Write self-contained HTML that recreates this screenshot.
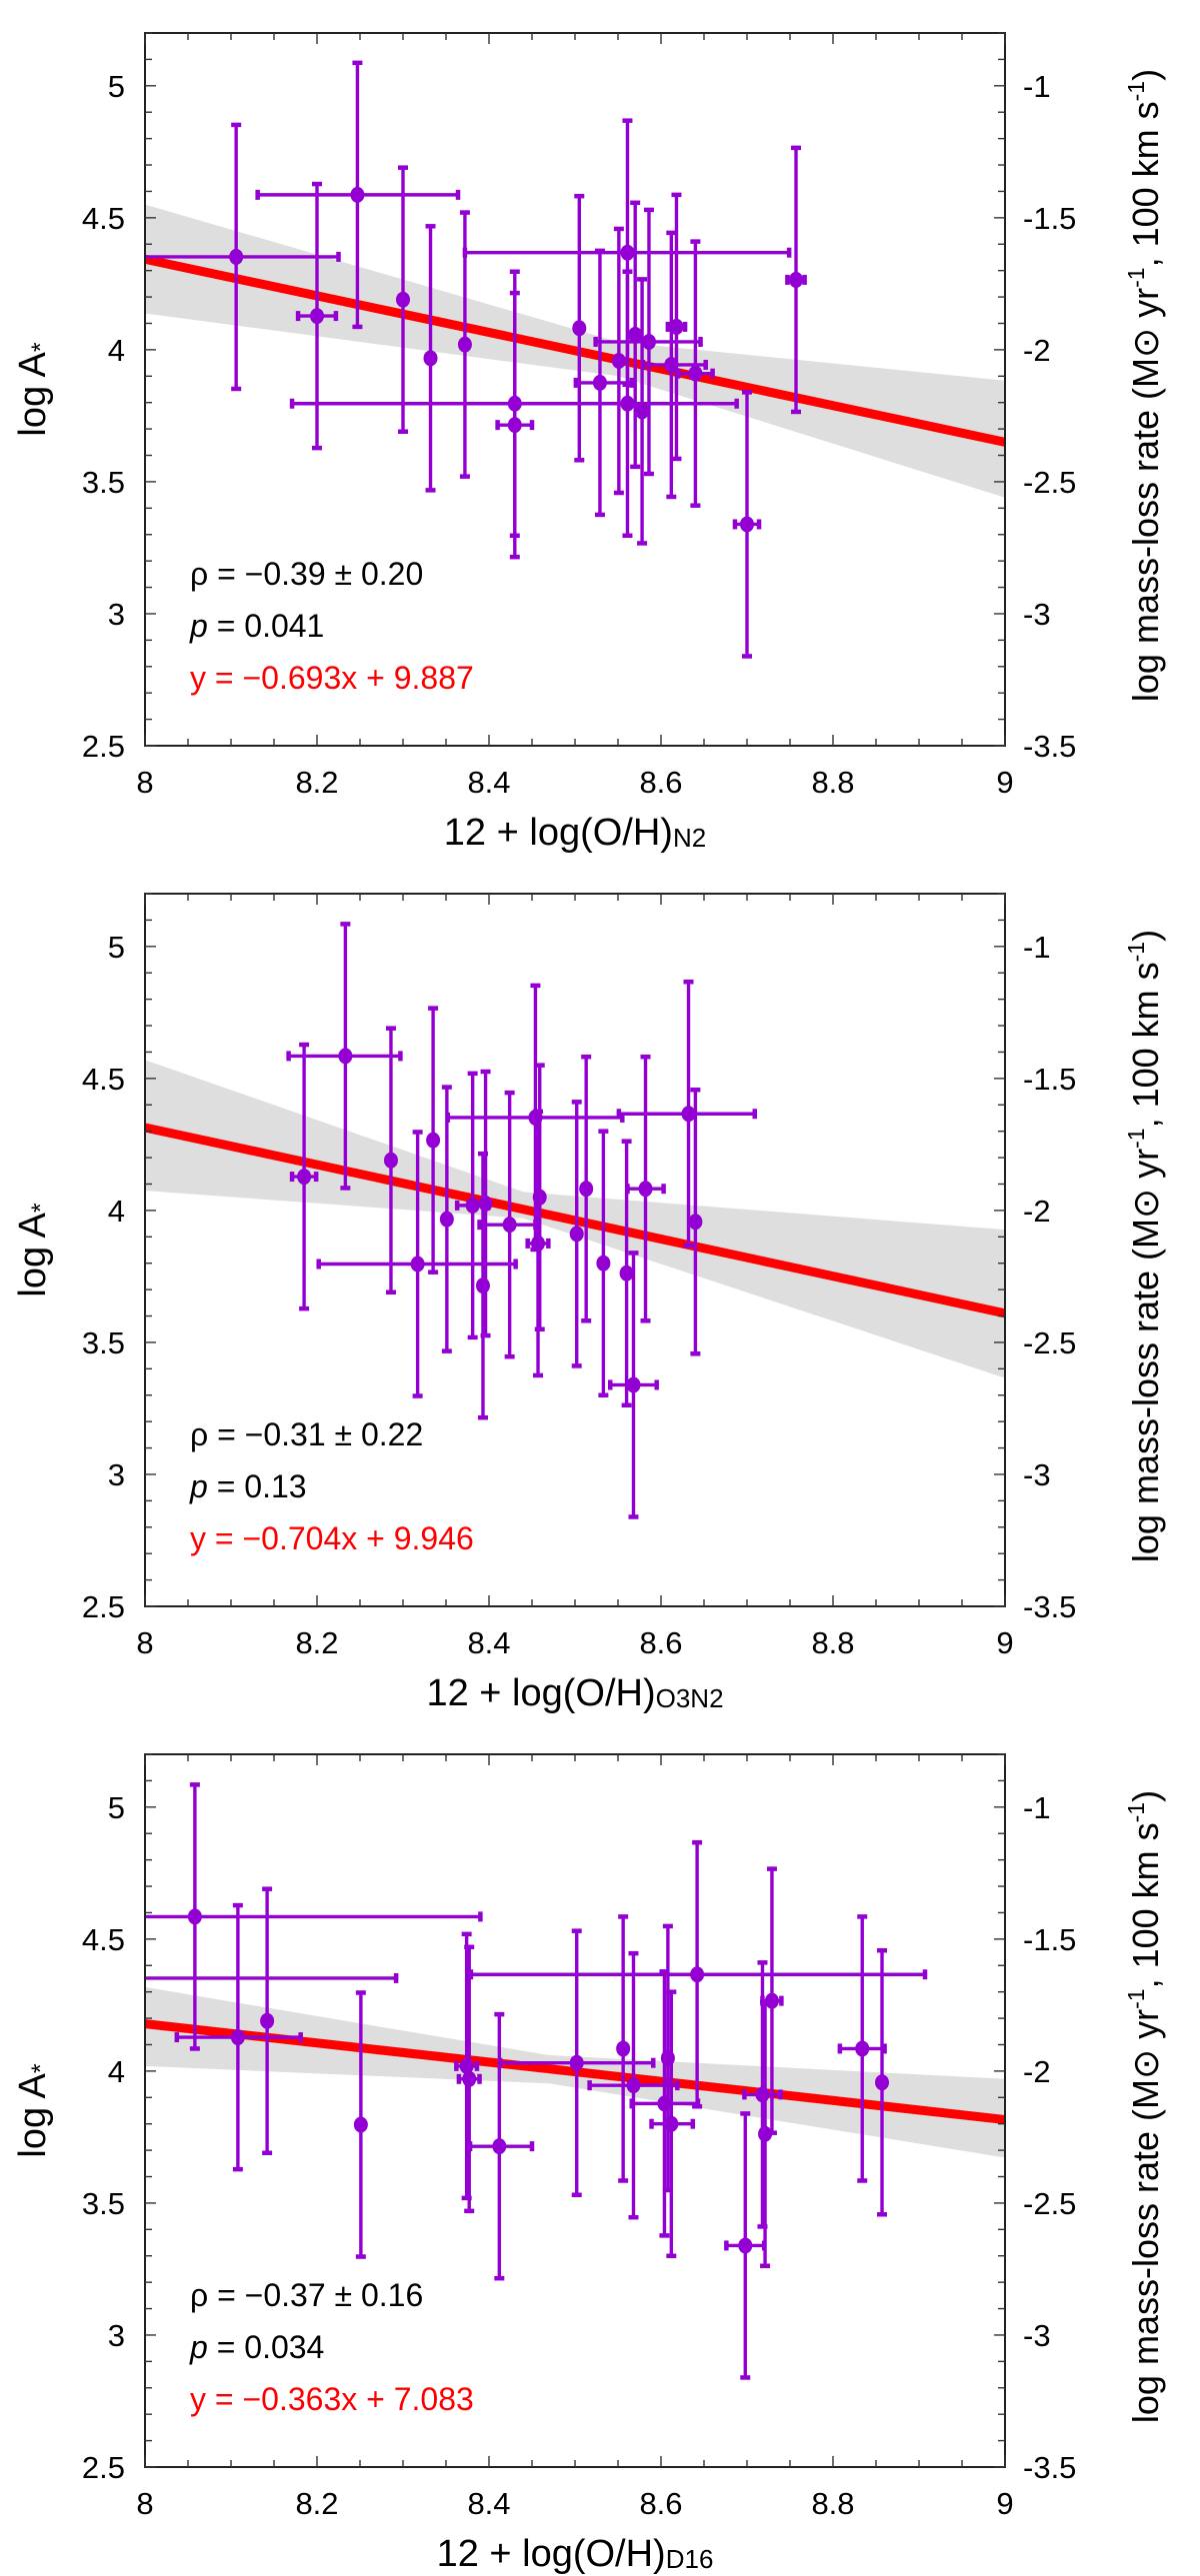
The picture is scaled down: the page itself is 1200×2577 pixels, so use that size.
<!DOCTYPE html>
<html><head><meta charset="utf-8">
<style>
html,body{margin:0;padding:0;background:#fff;}
svg{display:block;font-family:"Liberation Sans",sans-serif;}
</style></head>
<body>
<svg id="fig" width="1200" height="2577" viewBox="0 0 1200 2577" xmlns="http://www.w3.org/2000/svg"></svg>
<script>
// ---------- Panel 1 (N2) ----------
const p1X   = [8.106,8.200,8.247,8.300,8.332,8.372,8.430,8.430,8.505,8.529,8.551,8.561,8.561,8.570,8.578,8.586,8.612,8.618,8.640,8.700,8.757];
const p1Y   = [4.352,4.128,4.587,4.190,3.968,4.020,3.796,3.715,4.082,3.875,3.958,4.368,3.796,4.057,3.767,4.030,3.943,4.087,3.910,3.339,4.265];
const p1XLo = [0.150,0.022,0.116,0,0,0,0.259,0.020,0,0.028,0,0.189,0,0,0,0.062,0.033,0.010,0.020,0.014,0.010];
const p1XHi = [0.119,0.022,0.117,0,0,0,0.258,0.020,0,0.037,0,0.188,0,0,0,0.060,0.040,0.010,0.020,0.014,0.010];
const p1YErr= [0.50,0.50,0.50,0.50,0.50,0.50,0.50,0.50,0.50,0.50,0.50,0.50,0.50,0.50,0.50,0.50,0.50,0.50,0.50,0.50,0.50];
const p1Fit = [-0.693, 9.887];
const p1BandX  = [8.0, 8.55, 9.0];
const p1BandHi = [4.55, 4.03, 3.883];
const p1BandLo = [4.138, 3.90, 3.44];
const p1Stats = ["−0.39 ± 0.20","0.041","y = −0.693x + 9.887"];

// ---------- Panel 2 (O3N2) ----------
const p2X   = [8.185,8.233,8.286,8.317,8.335,8.351,8.381,8.396,8.393,8.424,8.454,8.457,8.459,8.502,8.513,8.533,8.560,8.568,8.582,8.632,8.640];
const p2Y   = [4.128,4.585,4.190,3.797,4.266,3.967,4.019,4.026,3.715,3.946,4.352,3.875,4.050,3.911,4.082,3.800,3.762,3.339,4.082,4.366,3.957];
const p2XLo = [0.014,0.066,0,0.115,0,0,0.018,0,0,0.035,0.102,0.012,0,0,0,0,0,0.027,0.021,0.081,0];
const p2XHi = [0.014,0.064,0,0.114,0,0,0.018,0,0,0.030,0.101,0.012,0,0,0,0,0,0.027,0.021,0.077,0];
const p2YErr= [0.50,0.50,0.50,0.50,0.50,0.50,0.50,0.50,0.50,0.50,0.50,0.50,0.50,0.50,0.50,0.50,0.50,0.50,0.50,0.50,0.50];
const p2Fit = [-0.704, 9.946];
const p2BandX  = [8.0, 8.44, 9.0];
const p2BandHi = [4.57, 4.07, 3.927];
const p2BandLo = [4.075, 3.97, 3.365];
const p2Stats = ["−0.31 ± 0.22","0.13","y = −0.704x + 9.946"];

// ---------- Panel 3 (D16) ----------
const p3X   = [7.950,8.058,8.108,8.142,8.251,8.374,8.377,8.412,8.502,8.556,8.568,8.604,8.608,8.612,8.642,8.698,8.718,8.721,8.729,8.834,8.857];
const p3Y   = [4.352,4.585,4.128,4.190,3.797,4.019,3.970,3.715,4.031,4.085,3.946,3.877,4.049,3.800,4.366,3.339,3.911,3.762,4.266,4.085,3.957];
const p3XLo = [0.342,0.332,0.071,0,0,0.012,0.012,0.034,0.089,0,0.051,0.038,0,0.023,0.263,0.022,0.021,0,0.011,0.026,0];
const p3XHi = [0.342,0.332,0.073,0,0,0.012,0.012,0.038,0.089,0,0.051,0.039,0,0.025,0.265,0.022,0.021,0,0.011,0.026,0];
const p3YErr= [0.50,0.50,0.50,0.50,0.50,0.50,0.50,0.50,0.50,0.50,0.50,0.50,0.50,0.50,0.50,0.50,0.50,0.50,0.50,0.50,0.50];
const p3Fit = [-0.363, 7.083];
const p3BandX  = [8.0, 8.47, 9.0];
const p3BandHi = [4.318, 4.06, 3.97];
const p3BandLo = [4.019, 3.953, 3.672];
const p3Stats = ["−0.37 ± 0.16","0.034","y = −0.363x + 7.083"];

const xTicks = [8, 8.2, 8.4, 8.6, 8.8, 9];
const xTickLabels = ["8","8.2","8.4","8.6","8.8","9"];
const yTicks = [2.5, 3, 3.5, 4, 4.5, 5];
const yTickLabels = ["2.5","3","3.5","4","4.5","5"];
const yRightLabels = ["-3.5","-3","-2.5","-2","-1.5","-1"];
const subs = ["N2","O3N2","D16"];

const NS = "http://www.w3.org/2000/svg";
const svg = document.getElementById("fig");
const PURPLE = "#9400d3";
function mk(tag, attrs, parent){
  const e = document.createElementNS(NS, tag);
  for (const k in attrs) e.setAttribute(k, attrs[k]);
  (parent||svg).appendChild(e);
  return e;
}

const L = 145, R = 1005, H = 713;
function drawPanel(idx, top, X, Y, XLo, XHi, YErr, fit, bX, bHi, bLo, stats){
  const g = mk("g", {});
  
  
  const bottom = top + H;
  const sx = v => L + (v - 8) * (R - L);
  const sy = v => bottom - (v - 2.5) / 2.7 * H;

  const defs = mk("defs", {}, g);
  const cp = mk("clipPath", {id: "clip" + idx}, defs);
  mk("rect", {x: L, y: top, width: R - L, height: H}, cp);
  const plot = mk("g", {"clip-path": "url(#clip" + idx + ")"}, g);

  let pts = [];
  for (let i = 0; i < bX.length; i++) pts.push(sx(bX[i]) + "," + sy(bHi[i]));
  for (let i = bX.length - 1; i >= 0; i--) pts.push(sx(bX[i]) + "," + sy(bLo[i]));
  const band = mk("polygon", {points: pts.join(" "), fill: "#dedede"}, plot);
  
  

  const fl = mk("line", {x1: sx(8), y1: sy(fit[0]*8 + fit[1]), x2: sx(9), y2: sy(fit[0]*9 + fit[1]), stroke: "#ff0000", "stroke-width": 9}, plot);
  
  

  for (let i = 0; i < X.length; i++){
    const pg = mk("g", {stroke: PURPLE, fill: PURPLE}, plot);
    
    
    const cx = sx(X[i]), cy = sy(Y[i]);
    const yt = sy(Y[i] + YErr[i]), yb = sy(Y[i] - YErr[i]);
    mk("line", {x1: cx, y1: yt, x2: cx, y2: yb, "stroke-width": 3.4}, pg);
    mk("line", {x1: cx - 5, y1: yt, x2: cx + 5, y2: yt, "stroke-width": 4.5}, pg);
    mk("line", {x1: cx - 5, y1: yb, x2: cx + 5, y2: yb, "stroke-width": 4.5}, pg);
    if (XLo[i] > 0 || XHi[i] > 0){
      const xl = sx(X[i] - XLo[i]), xr = sx(X[i] + XHi[i]);
      mk("line", {x1: xl, y1: cy, x2: xr, y2: cy, "stroke-width": 3.4}, pg);
      mk("line", {x1: xl, y1: cy - 5, x2: xl, y2: cy + 5, "stroke-width": 4.5}, pg);
      mk("line", {x1: xr, y1: cy - 5, x2: xr, y2: cy + 5, "stroke-width": 4.5}, pg);
    }
    mk("ellipse", {cx: cx, cy: cy, rx: 7, ry: 8, stroke: "none"}, pg);
  }

  const fr = mk("rect", {x: L, y: top, width: R - L, height: H, fill: "none", stroke: "#222", "stroke-width": 2}, g);
  
  

  const tk = mk("g", {stroke: "#333", "stroke-width": 1.4}, g);
  for (let v = 8; v <= 9.0001; v += 0.05){
    const major = Math.abs(Math.round(v*10)/10 - v) < 1e-6 && Math.round(v*10) % 2 === 0;
    const len = major ? 11 : 7;
    const x = sx(v);
    mk("line", {x1: x, y1: bottom, x2: x, y2: bottom - len}, tk);
    mk("line", {x1: x, y1: top, x2: x, y2: top + len}, tk);
  }
  for (let v = 2.5; v <= 5.2001; v += 0.1){
    const major = Math.abs(Math.round(v*2)/2 - v) < 1e-6;
    const len = major ? 11 : 7;
    const y = sy(v);
    mk("line", {x1: L, y1: y, x2: L + len, y2: y}, tk);
    mk("line", {x1: R, y1: y, x2: R - len, y2: y}, tk);
  }
  for (let i = 0; i < xTicks.length; i++){
    const t = mk("text", {x: sx(xTicks[i]), y: bottom + 47, "font-size": 31, "text-anchor": "middle"}, g);
    t.textContent = xTickLabels[i];
    
    
  }
  for (let i = 0; i < yTicks.length; i++){
    const t = mk("text", {x: 125, y: sy(yTicks[i]) + 11, "font-size": 31, "text-anchor": "end"}, g);
    t.textContent = yTickLabels[i];
    
    
    const t2 = mk("text", {x: 1023, y: sy(yTicks[i]) + 11, "font-size": 31}, g);
    t2.textContent = yRightLabels[i];
    
    
  }
  const s1 = mk("text", {x: 190, y: top + 552, "font-size": 32}, g);
  s1.textContent = "ρ = " + stats[0];
  
  
  const s2 = mk("text", {x: 190, y: top + 604, "font-size": 32}, g);
  const pi = mk("tspan", {"font-style": "italic"}, s2); pi.textContent = "p";
  const pr = mk("tspan", {}, s2); pr.textContent = " = " + stats[1];
  
  
  const s3 = mk("text", {x: 190, y: top + 656, "font-size": 32, fill: "#ff0000"}, g);
  s3.textContent = stats[2];
  
  

  const xt = mk("text", {x: 575, y: bottom + 99, "font-size": 38, "text-anchor": "middle"}, g);
  const a = mk("tspan", {}, xt); a.textContent = "12 + log(O/H)";
  const b = mk("tspan", {"font-size": 26, dy: 2}, xt); b.textContent = subs[idx];
  
  

  const cyMid = top + H/2;
  const yl = mk("text", {x: 0, y: 0, "font-size": 38, "text-anchor": "middle", transform: "translate(45," + cyMid + ") rotate(-90)"}, g);
  const y1 = mk("tspan", {}, yl); y1.textContent = "log A";
  const y2 = mk("tspan", {"font-size": 25, dy: 4}, yl); y2.textContent = "*";
  
  

  const yr = mk("text", {x: 0, y: 0, "font-size": 36, "text-anchor": "middle", transform: "translate(1158," + (cyMid - 4) + ") rotate(-90)"}, g);
  const r1 = mk("tspan", {}, yr); r1.textContent = "log mass-loss rate (M⊙ yr";
  const r2 = mk("tspan", {"font-size": 23, dy: -14}, yr); r2.textContent = "-1";
  const r3 = mk("tspan", {dy: 14}, yr); r3.textContent = ",  100 km s";
  const r4 = mk("tspan", {"font-size": 23, dy: -14}, yr); r4.textContent = "-1";
  const r5 = mk("tspan", {dy: 14}, yr); r5.textContent = ")";
  
  
}

drawPanel(0, 33,   p1X, p1Y, p1XLo, p1XHi, p1YErr, p1Fit, p1BandX, p1BandHi, p1BandLo, p1Stats);
drawPanel(1, 894,  p2X, p2Y, p2XLo, p2XHi, p2YErr, p2Fit, p2BandX, p2BandHi, p2BandLo, p2Stats);
drawPanel(2, 1755, p3X, p3Y, p3XLo, p3XHi, p3YErr, p3Fit, p3BandX, p3BandHi, p3BandLo, p3Stats);
</script>
</body></html>
